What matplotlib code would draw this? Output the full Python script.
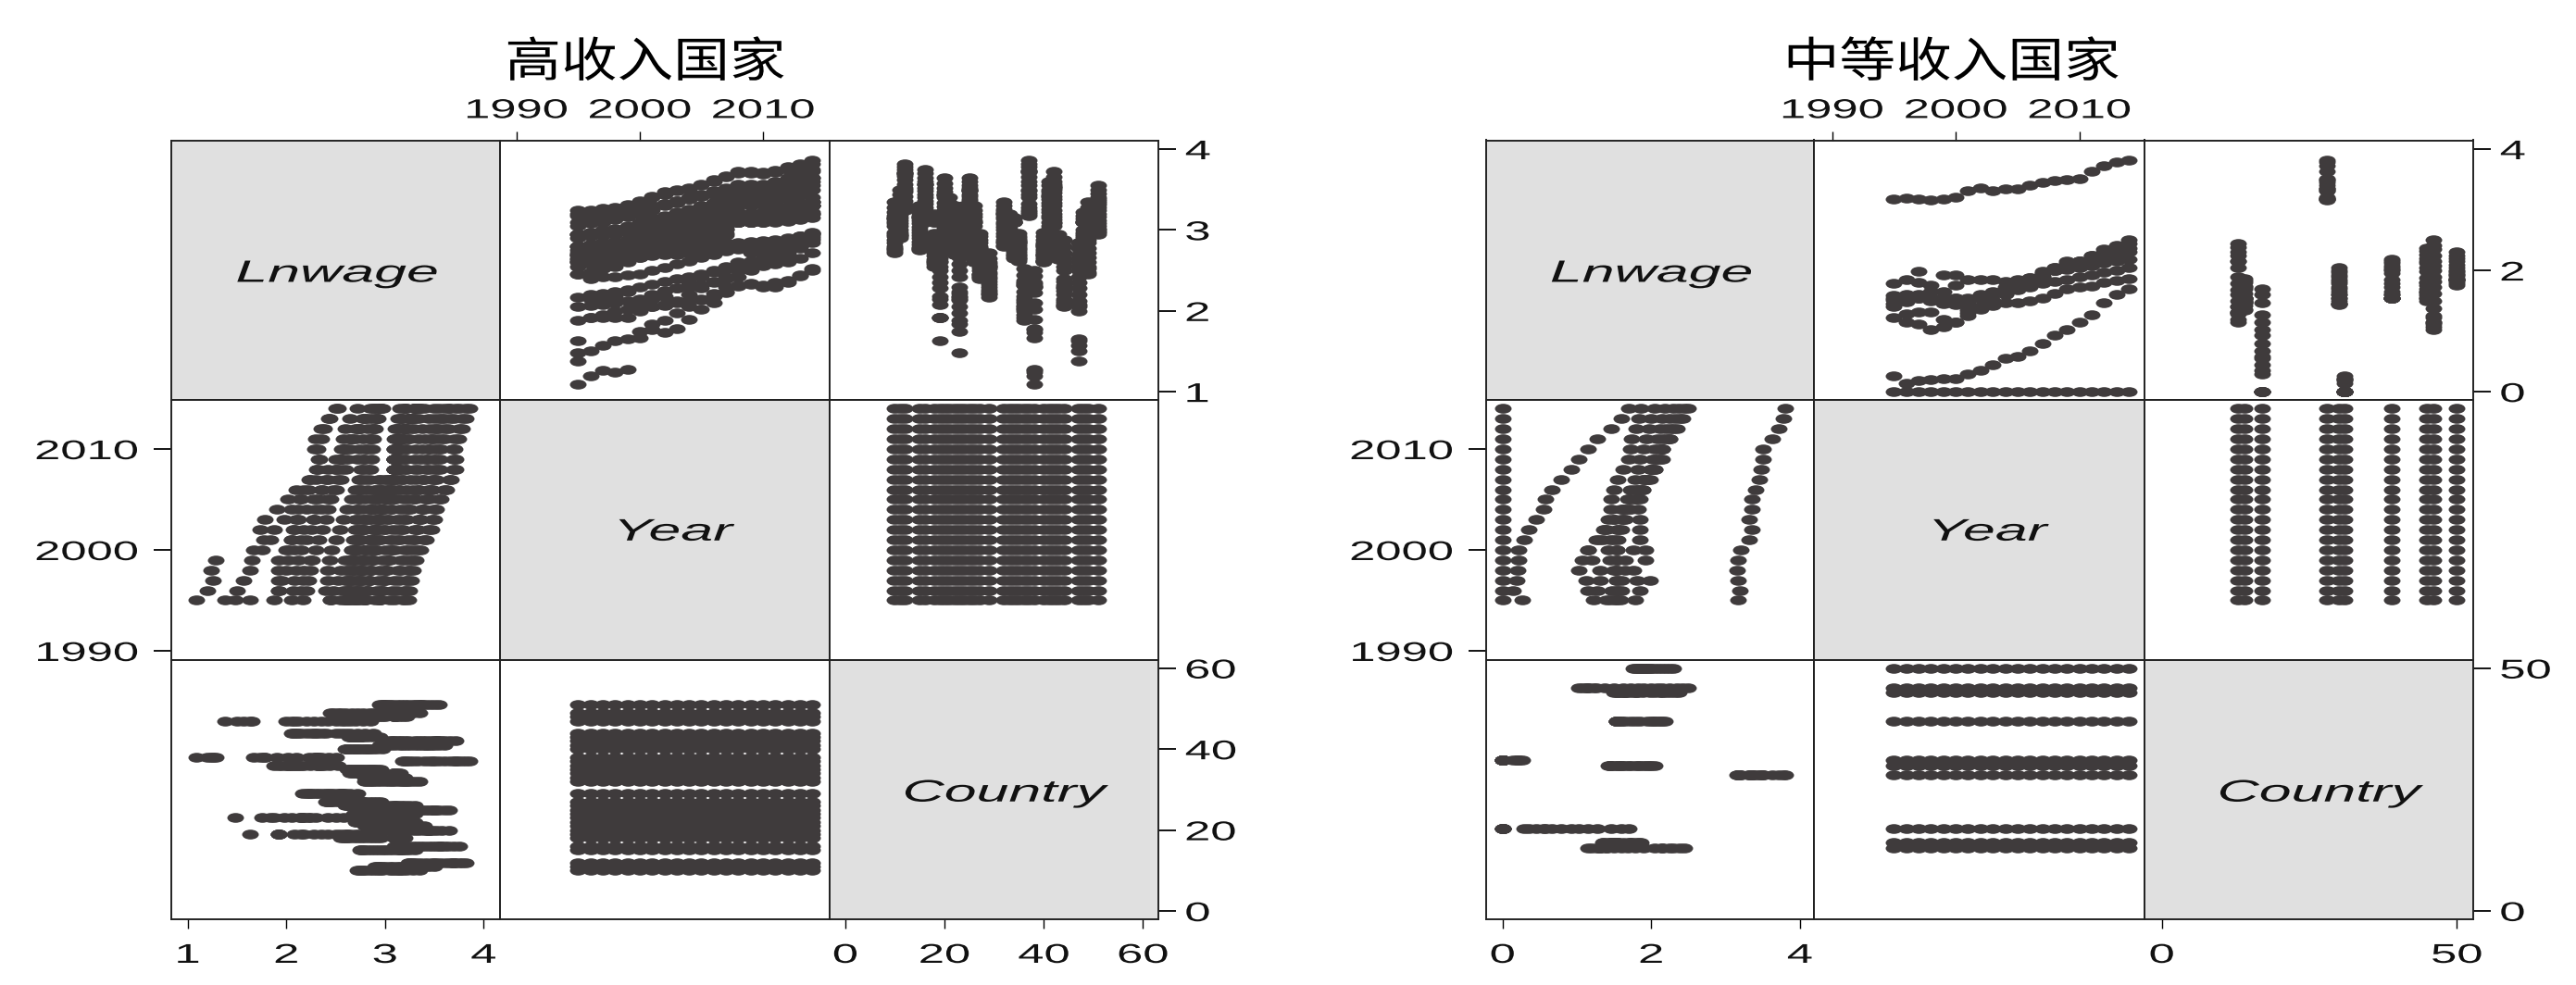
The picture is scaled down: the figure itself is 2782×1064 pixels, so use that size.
import matplotlib

matplotlib.use("Agg")
from matplotlib import pyplot as plt
from matplotlib.markers import MarkerStyle
from matplotlib.patheffects import AbstractPathEffect
from matplotlib.transforms import Affine2D

years = list(range(1995, 2015))

high_countries = [10, 11, 12, 15, 16, 18, 19, 20, 21, 22, 23, 24, 25, 26, 27, 29,
                  32, 33, 34, 35, 36, 37, 38, 40, 41, 42, 43, 44, 47, 48, 49, 51]
# lnwage 1995..2014, one row per country in high_countries
high_lnwage = [
    [2.72, 2.74, 2.76, 2.78, 2.80, 2.84, 2.88, 2.92, 2.95, 2.97, 3.05, 3.08, 3.11, 3.14, 3.14, 3.15, 3.18, 3.22, 3.28, 3.35],
    [2.90, 2.92, 2.94, 2.95, 2.97, 3.00, 3.05, 3.08, 3.12, 3.15, 3.19, 3.22, 3.26, 3.30, 3.30, 3.31, 3.34, 3.38, 3.44, 3.50],
    [3.24, 3.25, 3.27, 3.28, 3.31, 3.36, 3.42, 3.47, 3.50, 3.52, 3.57, 3.62, 3.67, 3.70, 3.70, 3.69, 3.71, 3.75, 3.78, 3.82],
    [2.75, 2.76, 2.78, 2.79, 2.82, 2.86, 2.90, 2.94, 2.97, 3.00, 3.04, 3.08, 3.12, 3.15, 3.15, 3.16, 3.18, 3.21, 3.25, 3.30],
    [3.10, 3.12, 3.14, 3.16, 3.20, 3.24, 3.28, 3.32, 3.36, 3.40, 3.44, 3.48, 3.52, 3.56, 3.56, 3.57, 3.60, 3.64, 3.70, 3.75],
    [2.55, 2.58, 2.60, 2.62, 2.64, 2.68, 2.72, 2.76, 2.80, 2.84, 2.88, 2.92, 2.96, 3.10, 3.10, 3.11, 3.12, 3.13, 3.16, 3.20],
    [1.63, 1.92, 1.92, 1.92, 1.92, 2.08, 2.15, 2.18, 2.28, 2.35, 2.42, 2.50, 2.55, 2.60, 2.62, 2.65, 2.70, 2.74, 2.80, 2.90],
    [2.95, 2.97, 2.98, 3.00, 3.03, 3.07, 3.12, 3.16, 3.20, 3.24, 3.29, 3.34, 3.40, 3.44, 3.43, 3.44, 3.47, 3.52, 3.58, 3.65],
    [2.80, 2.82, 2.84, 2.85, 2.88, 2.91, 2.94, 2.98, 3.02, 3.06, 3.10, 3.14, 3.18, 3.22, 3.21, 3.22, 3.25, 3.29, 3.34, 3.40],
    [2.70, 2.71, 2.73, 2.75, 2.77, 2.80, 2.84, 2.88, 2.92, 2.96, 3.00, 3.04, 3.08, 3.12, 3.11, 3.12, 3.15, 3.19, 3.24, 3.30],
    [1.48, 2.15, 2.17, 2.18, 2.24, 1.75, 1.84, 1.88, 1.98, 2.05, 2.14, 2.22, 2.30, 2.42, 2.50, 2.58, 2.66, 2.75, 2.84, 2.92],
    [2.68, 2.70, 2.72, 2.74, 2.76, 2.80, 2.85, 2.90, 2.93, 2.96, 3.00, 3.04, 3.08, 3.14, 3.13, 3.14, 3.17, 3.20, 3.25, 3.30],
    [3.20, 3.22, 3.23, 3.24, 3.25, 3.28, 3.30, 3.33, 3.36, 3.38, 3.42, 3.44, 3.48, 3.50, 3.49, 3.50, 3.52, 3.55, 3.60, 3.65],
    [2.60, 2.62, 2.64, 2.66, 2.68, 2.72, 2.76, 2.80, 2.84, 2.88, 2.92, 2.96, 3.05, 3.10, 3.10, 3.12, 3.16, 3.20, 3.25, 3.30],
    [2.45, 2.40, 2.42, 2.42, 2.44, 2.46, 2.50, 2.54, 2.58, 2.62, 2.66, 2.70, 2.74, 2.78, 2.78, 2.80, 2.84, 2.88, 2.92, 2.96],
    [2.17, 2.20, 2.22, 2.24, 2.26, 2.30, 2.33, 2.36, 2.40, 2.42, 2.45, 2.48, 2.52, 2.55, 2.55, 2.56, 2.58, 2.60, 2.65, 2.72],
    [2.80, 2.81, 2.84, 2.86, 2.88, 2.92, 2.96, 3.00, 3.04, 3.07, 3.10, 3.14, 3.17, 3.20, 3.20, 3.21, 3.23, 3.26, 3.30, 3.35],
    [2.80, 2.82, 2.83, 2.84, 2.86, 2.88, 2.90, 2.92, 2.95, 2.97, 3.00, 3.02, 3.06, 3.10, 3.10, 3.10, 3.11, 3.12, 3.16, 3.20],
    [2.65, 2.66, 2.68, 2.70, 2.72, 2.74, 2.76, 2.78, 2.80, 2.84, 2.86, 2.90, 2.94, 3.10, 3.10, 3.10, 3.10, 3.11, 3.13, 3.15],
    [2.62, 2.64, 2.65, 2.66, 2.68, 2.70, 2.72, 2.74, 2.76, 2.78, 2.80, 2.82, 2.84, 2.85, 2.86, 2.87, 2.88, 2.90, 2.93, 2.96],
    [1.88, 1.92, 1.95, 2.00, 2.02, 2.03, 2.05, 2.07, 2.10, 2.12, 2.15, 2.18, 2.24, 2.32, 2.34, 2.32, 2.35, 2.38, 2.44, 2.52],
    [3.18, 3.20, 3.22, 3.25, 3.28, 3.33, 3.40, 3.44, 3.48, 3.50, 3.55, 3.60, 3.66, 3.72, 3.72, 3.71, 3.74, 3.78, 3.82, 3.86],
    [1.09, 1.20, 1.26, 1.24, 1.28, 1.67, 1.77, 1.73, 1.78, 1.90, 2.02, 2.10, 2.23, 2.31, 2.33, 2.29, 2.30, 2.35, 2.43, 2.50],
    [2.60, 2.62, 2.62, 2.62, 2.64, 2.66, 2.68, 2.70, 2.70, 2.72, 2.74, 2.76, 2.80, 2.82, 2.80, 2.82, 2.85, 2.88, 2.92, 2.97],
    [2.95, 2.96, 3.00, 3.02, 3.05, 3.10, 3.15, 3.18, 3.22, 3.26, 3.30, 3.34, 3.38, 3.42, 3.42, 3.44, 3.47, 3.50, 3.55, 3.60],
    [3.05, 3.08, 3.10, 3.13, 3.16, 3.20, 3.24, 3.30, 3.34, 3.38, 3.42, 3.46, 3.50, 3.53, 3.52, 3.54, 3.57, 3.60, 3.66, 3.72],
    [2.64, 2.65, 2.66, 2.68, 2.68, 2.69, 2.70, 2.71, 2.72, 2.72, 2.73, 2.74, 2.75, 2.76, 2.72, 2.74, 2.78, 2.82, 2.88, 2.95],
    [2.05, 2.07, 2.08, 2.10, 2.12, 2.15, 2.20, 2.25, 2.28, 2.30, 2.32, 2.36, 2.40, 2.50, 2.55, 2.60, 2.65, 2.72, 2.80, 2.88],
    [1.38, 1.50, 1.57, 1.63, 1.65, 2.00, 2.05, 2.08, 2.12, 2.20, 2.28, 2.35, 2.42, 2.50, 2.56, 2.60, 2.65, 2.70, 2.78, 2.85],
    [2.70, 2.72, 2.74, 2.75, 2.78, 2.80, 2.84, 2.88, 2.90, 2.92, 2.95, 2.97, 3.00, 3.10, 3.10, 3.10, 3.11, 3.14, 3.18, 3.22],
    [2.45, 2.48, 2.52, 2.55, 2.60, 2.66, 2.72, 2.78, 2.84, 2.88, 2.92, 2.96, 3.02, 3.10, 3.10, 3.11, 3.14, 3.20, 3.28, 3.35],
    [2.95, 2.97, 2.98, 3.00, 3.02, 3.05, 3.08, 3.12, 3.16, 3.20, 3.24, 3.28, 3.31, 3.34, 3.36, 3.38, 3.41, 3.45, 3.50, 3.55],
]

mid_countries = [13, 14, 17, 28, 30, 31, 39, 45, 46, 50]
mid_lnwage = [
    [1.40, 1.28, 1.31, 1.31, 1.20, 1.15, 1.30, 1.40, 1.50, 1.60, 1.68, 1.78, 1.90, 2.05, 2.15, 2.15, 2.25, 2.30, 2.38, 2.45],
    [1.51, 1.48, 1.54, 1.54, 1.54, 1.54, 1.35, 1.36, 1.42, 1.46, 1.46, 1.50, 1.55, 1.62, 1.70, 1.72, 1.74, 1.80, 1.83, 1.86],
    [0.00, 0.00, 0.00, 0.00, 0.00, 0.00, 0.29, 0.35, 0.45, 0.55, 0.58, 0.67, 0.79, 0.93, 1.03, 1.15, 1.27, 1.46, 1.60, 1.70],
    [3.17, 3.19, 3.17, 3.16, 3.17, 3.20, 3.32, 3.36, 3.32, 3.35, 3.35, 3.41, 3.45, 3.48, 3.50, 3.51, 3.63, 3.72, 3.78, 3.81],
    [1.45, 1.55, 1.60, 1.50, 1.45, 1.43, 1.45, 1.55, 1.60, 1.65, 1.70, 1.72, 1.78, 1.82, 1.85, 1.90, 1.93, 1.97, 2.00, 2.05],
    [0.26, 0.14, 0.19, 0.20, 0.22, 0.22, 0.00, 0.00, 0.00, 0.00, 0.00, 0.00, 0.00, 0.00, 0.00, 0.00, 0.00, 0.00, 0.00, 0.00],
    [1.54, 1.60, 1.54, 1.54, 1.54, 1.54, 1.55, 1.60, 1.65, 1.72, 1.78, 1.85, 1.95, 2.00, 2.02, 2.05, 2.08, 2.12, 2.15, 2.19],
    [1.59, 1.54, 1.81, 1.65, 1.65, 1.76, 1.50, 1.55, 1.62, 1.70, 1.80, 1.88, 1.98, 2.05, 2.12, 2.15, 2.20, 2.26, 2.32, 2.37],
    [1.23, 1.15, 1.12, 1.02, 1.07, 1.15, 1.26, 1.38, 1.50, 1.62, 1.72, 1.82, 1.90, 2.00, 2.08, 2.15, 2.25, 2.35, 2.42, 2.50],
    [1.78, 1.85, 1.98, 1.76, 1.92, 1.92, 1.85, 1.85, 1.85, 1.82, 1.85, 1.88, 1.95, 2.00, 2.05, 2.10, 2.15, 2.20, 2.25, 2.30],
]

titles = ["高收入国家", "中等收入国家"]
var_names = ["Lnwage", "Year", "Country"]

high_wage_ticks = [1, 2, 3, 4]
high_country_ticks = [0, 20, 40, 60]
mid_wage_ticks = [0, 2, 4]
mid_country_ticks = [0, 50]
year_ticks = [1990, 2000, 2010]

DOT = "#3f3b3c"
GREY = "#e0e0e0"
LINE = "#222222"


class StretchX(AbstractPathEffect):
    # the source picture is pulled wide, text included
    def __init__(self, factor, anchor="center"):
        super().__init__()
        self.factor = factor
        self.anchor = anchor

    def draw_path(self, renderer, gc, tpath, affine, rgbFace=None):
        box = tpath.get_extents()
        ref = {"left": box.x0, "center": (box.x0 + box.x1) / 2, "right": box.x1}[self.anchor]
        wide = Affine2D().translate(-ref, 0).scale(self.factor, 1).translate(ref, 0)
        renderer.draw_path(gc, tpath, wide + affine, rgbFace)


def add_panel(fig, x0, x1, y0, y1):
    W, H = 2782, 1064
    ax = fig.add_axes([x0 / W, 1 - y1 / H, (x1 - x0) / W, (y1 - y0) / H])
    for s in ax.spines.values():
        s.set_linewidth(1.4)
        s.set_color(LINE)
    ax.tick_params(left=False, bottom=False, labelleft=False, labelbottom=False)
    return ax


def style_ticks(labels, anchor):
    for t in labels:
        t.set_fontfamily("Liberation Sans")
        t.set_fontsize(21)
        t.set_color("#111111")
        t.set_path_effects([StretchX(1.74, anchor)])


def draw_matrix(fig, xs, ys, countries, lnwage, wage_lim_x, wage_lim_y, year_lim_x,
                country_lim_x, country_lim_y, wage_ticks, country_ticks):
    year_lim_y = (1989.08, 2014.86)
    lims_x = [wage_lim_x, year_lim_x, country_lim_x]
    lims_y = [wage_lim_y, year_lim_y, country_lim_y]
    label_pos = [(0.505, 0.485), (0.53, 0.49), (0.535, 0.485)]

    wage_all, year_all, country_all = [], [], []
    for c, row in zip(countries, lnwage):
        for y, v in zip(years, row):
            wage_all.append(v)
            year_all.append(y)
            country_all.append(c)
    columns = [wage_all, year_all, country_all]
    dot = MarkerStyle("o", transform=Affine2D().scale(1.7, 1.0))
    ticks = [wage_ticks, year_ticks, country_ticks]

    for r in range(3):
        for c in range(3):
            ax = add_panel(fig, xs[c], xs[c + 1], ys[r], ys[r + 1])
            ax.set_xlim(*lims_x[c])
            ax.set_ylim(*lims_y[r])
            if r == c:
                ax.set_facecolor(GREY)
                ax.text(label_pos[r][0], label_pos[r][1], var_names[r], transform=ax.transAxes,
                        ha="center", va="center", family="Liberation Sans", style="italic",
                        fontsize=24, color="#111111", path_effects=[StretchX(1.88)])
            else:
                ax.scatter(columns[c], columns[r], s=58, marker=dot, color=DOT, linewidths=0, clip_on=True)

            # ticks go round the outside like an R pairs plot
            if r == 0 and c == 1:
                ax.set_xticks(ticks[c])
                ax.tick_params(axis="x", top=True, labeltop=True, length=7, width=1, pad=6)
                style_ticks(ax.get_xticklabels(), "center")
            if r == 2 and c != 1:
                ax.set_xticks(ticks[c])
                ax.tick_params(axis="x", bottom=True, labelbottom=True, length=7, width=1, pad=11)
                style_ticks(ax.get_xticklabels(), "center")
            if r == 1 and c == 0:
                ax.set_yticks(ticks[r])
                ax.tick_params(axis="y", left=True, labelleft=True, length=14, width=1.3, pad=12)
                style_ticks(ax.get_yticklabels(), "right")
            if r != 1 and c == 2:
                ax.set_yticks(ticks[r])
                ax.tick_params(axis="y", right=True, labelright=True, length=14, width=1.3, pad=7)
                style_ticks(ax.get_yticklabels(), "left")


def main():
    fig = plt.figure(figsize=(27.82, 10.64), dpi=100)
    row_edges = [151.5, 432, 713, 993]

    draw_matrix(fig, [185, 540, 896, 1251], row_edges, high_countries, high_lnwage,
                (0.833, 4.167), (0.899, 4.109), (1988.67, 2015.4),
                (-3.15, 63.1), (-2.05, 62.0), high_wage_ticks, high_country_ticks)
    draw_matrix(fig, [1605, 1959, 2316, 2671], row_edges, mid_countries, mid_lnwage,
                (-0.22, 4.19), (-0.135, 4.145), (1988.53, 2015.27),
                (-2.92, 52.78), (-1.75, 51.68), mid_wage_ticks, mid_country_ticks)

    for title, cx in zip(titles, [697 / 2782, 2108 / 2782]):
        fig.text(cx, 1 - 68 / 1064, title, ha="center", va="center", fontsize=37,
                 family=["Noto Sans CJK SC", "DejaVu Sans"], color="black",
                 path_effects=[StretchX(1.18)])

    fig.savefig("out.png", dpi=100, facecolor="white")


if __name__ == "__main__":
    main()
